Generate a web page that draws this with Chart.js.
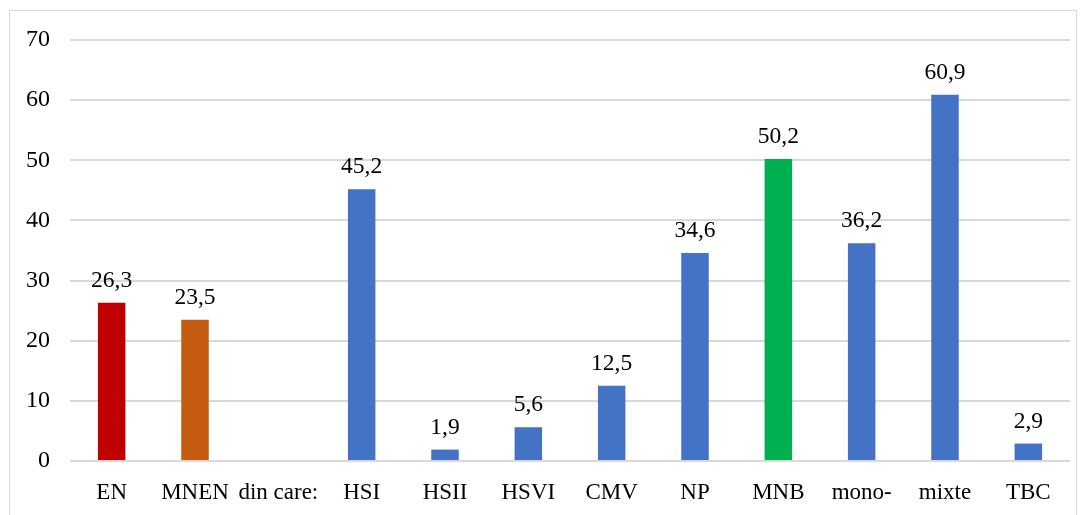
<!DOCTYPE html>
<html>
<head>
<meta charset="utf-8">
<script src="https://cdn.jsdelivr.net/npm/chart.js@4.4.1/dist/chart.umd.min.js"></script>
<style>
  html, body { margin: 0; padding: 0; background: #fff; }
  #wrap { position: relative; width: 1086px; height: 515px; overflow: hidden; }
  #frame { position: absolute; left: 9px; top: 10px; width: 1068px; height: 520px; border: 1px solid #d9d9d9; box-sizing: border-box; }
  canvas { position: absolute; left: 0; top: 0; }
</style>
</head>
<body>
<div id="wrap">
  <div id="frame"></div>
  <canvas id="chart" width="1086" height="515"></canvas>
</div>
<script>
const categories = ['EN', 'MNEN', 'din care:', 'HSI', 'HSII', 'HSVI', 'CMV', 'NP', 'MNB', 'mono-', 'mixte', 'TBC'];
const values = [26.3, 23.5, null, 45.2, 1.9, 5.6, 12.5, 34.6, 50.2, 36.2, 60.9, 2.9];
const barColors = ['#c00000', '#c55a11', '#4472c4', '#4472c4', '#4472c4', '#4472c4', '#4472c4', '#4472c4', '#00b050', '#4472c4', '#4472c4', '#4472c4'];
const yTicks = [0, 10, 20, 30, 40, 50, 60, 70];

const FONT = '"Liberation Serif", "Times New Roman", serif';

// value labels above each bar, comma as decimal mark
const valueLabels = {
  id: 'valueLabels',
  afterDatasetsDraw(chart) {
    const ctx = chart.ctx;
    const meta = chart.getDatasetMeta(0);
    ctx.save();
    ctx.font = '23.5px ' + FONT;
    ctx.fillStyle = '#000';
    ctx.textAlign = 'center';
    ctx.textBaseline = 'alphabetic';
    meta.data.forEach((bar, i) => {
      const v = values[i];
      if (v == null) return;
      ctx.fillText(String(v).replace('.', ','), bar.x, bar.y - 16);
    });
    ctx.restore();
  }
};

new Chart(document.getElementById('chart'), {
  type: 'bar',
  data: {
    labels: categories,
    datasets: [{
      data: values,
      backgroundColor: barColors,
      borderWidth: 0,
      categoryPercentage: 1,
      barPercentage: 0.33
    }]
  },
  options: {
    responsive: false,
    animation: false,
    devicePixelRatio: 1,
    layout: { padding: { top: 40, right: 16, left: 0, bottom: 0 } },
    plugins: { legend: { display: false }, tooltip: { enabled: false } },
    scales: {
      x: {
        grid: { display: false, drawTicks: false },
        border: { display: false },
        ticks: { color: '#000', font: { family: FONT, size: 23 }, padding: 18, maxRotation: 0, autoSkip: false },
        afterFit(scale) { scale.height = 54; }
      },
      y: {
        min: 0,
        max: 70,
        afterBuildTicks(scale) { scale.ticks = yTicks.map(v => ({ value: v })); },
        grid: { color: '#d9d9d9', lineWidth: 2, drawTicks: false },
        border: { display: false },
        ticks: { color: '#000', font: { family: FONT, size: 24 }, padding: 20 },
        afterFit(scale) { scale.width = 70; }
      }
    }
  },
  plugins: [valueLabels]
});
</script>
</body>
</html>
